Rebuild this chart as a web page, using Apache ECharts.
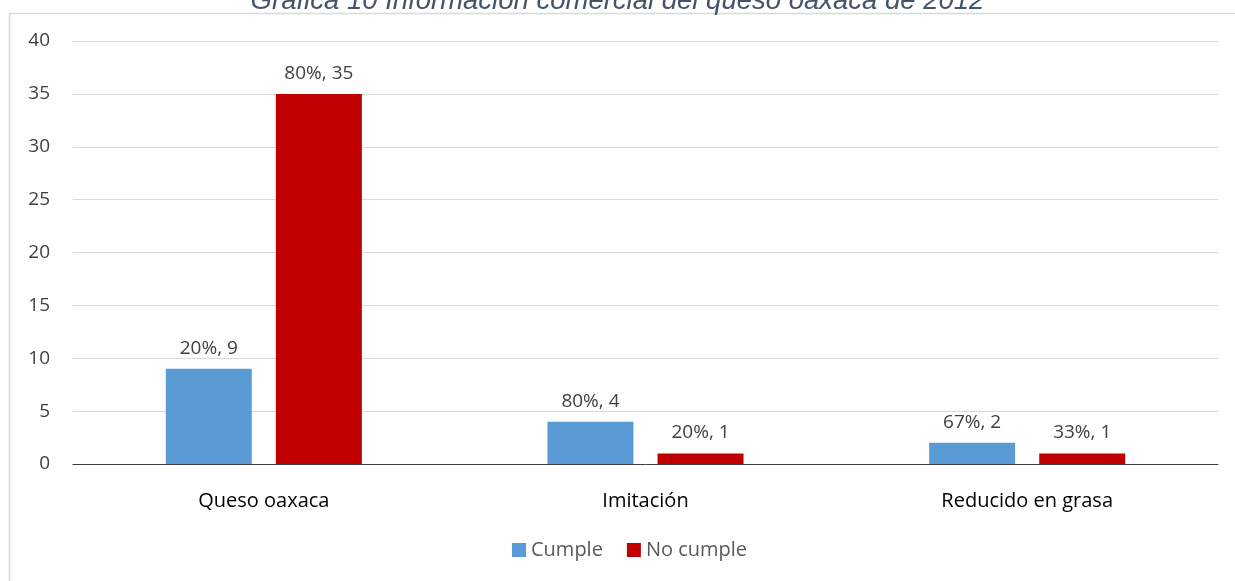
<!DOCTYPE html>
<html>
<head>
<meta charset="utf-8">
<script src="https://cdn.jsdelivr.net/npm/echarts@6/dist/echarts.min.js"></script>
<style>
html,body{margin:0;padding:0;background:#fff;}
#chart{width:1235px;height:581px;}
</style>
</head>
<body>
<div id="chart"></div>
<script>
const title = 'Gráfica 10 Información comercial del queso oaxaca de 2012';
const categories = ['Queso oaxaca', 'Imitación', 'Reducido en grasa'];
const seriesNames = ['Cumple', 'No cumple'];
const cumple = [9, 4, 2];
const noCumple = [35, 1, 1];
const cumplePct = ['20%', '80%', '67%'];
const noCumplePct = ['80%', '20%', '33%'];
const yTicks = { min: 0, max: 40, interval: 5 };

const chart = echarts.init(document.getElementById('chart'), null, { renderer: 'canvas' });
const font = '"Open Sans", "Noto Sans", sans-serif';
function mkLabel(pcts) {
  return {
    show: true, position: 'top', distance: 11,
    color: '#404040', fontSize: 19, fontFamily: font,
    formatter: p => pcts[p.dataIndex] + ', ' + p.value
  };
}
chart.setOption({
  animation: false,
  backgroundColor: '#fff',
  title: {
    text: title, left: 'center', top: -17,
    textStyle: { fontFamily: '"Liberation Sans", Arial, sans-serif', fontStyle: 'italic', fontWeight: 'normal', fontSize: 27.5, color: '#44546a' }
  },
  graphic: [{
    type: 'rect', left: 7, top: 11, z: -1,
    shape: { width: 1240, height: 600 },
    style: { fill: 'none', stroke: '#d9d9d9', lineWidth: 1.5 }
  }],
  legend: {
    data: seriesNames, bottom: 16, left: 507, itemWidth: 14, itemHeight: 14, itemGap: 24,
    icon: 'rect',
    textStyle: { color: '#595959', fontSize: 20, fontFamily: font }
  },
  grid: { left: 73, right: 17, top: 41, bottom: 117, containLabel: false },
  xAxis: {
    type: 'category', data: categories,
    axisLine: { lineStyle: { color: '#404040', width: 1 } },
    axisTick: { show: false },
    axisLabel: { color: '#000', fontSize: 20, fontFamily: font, margin: 27 }
  },
  yAxis: {
    type: 'value', min: yTicks.min, max: yTicks.max, interval: yTicks.interval,
    axisLine: { show: false }, axisTick: { show: false },
    splitLine: { lineStyle: { color: '#d9d9d9', width: 1 } },
    axisLabel: { color: '#404040', fontSize: 19, fontFamily: font, margin: 23 }
  },
  series: [
    { name: seriesNames[0], type: 'bar', data: cumple, barWidth: 86, barGap: '28%',
      itemStyle: { color: '#5b9bd5' }, label: mkLabel(cumplePct) },
    { name: seriesNames[1], type: 'bar', data: noCumple, barWidth: 86,
      itemStyle: { color: '#c00000' }, label: mkLabel(noCumplePct) }
  ]
});
</script>
</body>
</html>
